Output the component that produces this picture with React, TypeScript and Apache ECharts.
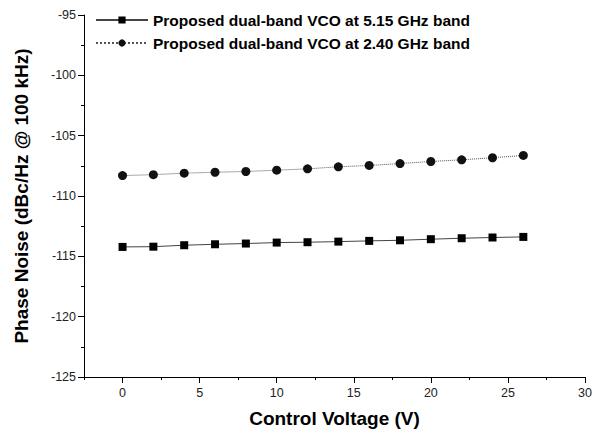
import React, { useEffect, useRef } from "react";
import * as echarts from "echarts";

const voltage = [0, 2, 4, 6, 8, 10, 12, 14, 16, 18, 20, 22, 24, 26];
const noise515 = [-114.22, -114.2, -114.08, -114.0, -113.94, -113.86, -113.83, -113.78, -113.72, -113.67, -113.58, -113.5, -113.44, -113.39];
const noise240 = [-108.31, -108.23, -108.11, -108.03, -107.97, -107.86, -107.75, -107.58, -107.47, -107.31, -107.14, -107.0, -106.83, -106.64];
const xMajorTicks = [0, 5, 10, 15, 20, 25, 30];
const xMinorTicks = [-2.5, 2.5, 7.5, 12.5, 17.5, 22.5, 27.5];
const seriesNames = [
  "Proposed dual-band VCO at 5.15 GHz band",
  "Proposed dual-band VCO at 2.40 GHz band",
];

export default function App() {
  const ref = useRef<HTMLDivElement>(null);
  useEffect(() => {
    if (!ref.current) return;
    const chart = echarts.init(ref.current, null, { renderer: "svg" });
    const font = "'Liberation Sans', Arial, sans-serif";
    const xCommon = {
      type: "value",
      min: -2.5,
      max: 30,
      splitLine: { show: false },
    };
    chart.setOption({
      animation: false,
      backgroundColor: "#fff",
      textStyle: { fontFamily: font },
      grid: { left: 84, right: 24, top: 15, bottom: 60 },
      legend: {
        orient: "vertical",
        left: 90,
        top: 7,
        itemWidth: 52,
        itemHeight: 9,
        itemGap: 7,
        textStyle: { fontSize: 15.5, fontWeight: "bold", color: "#000", fontFamily: font },
        data: seriesNames,
      },
      xAxis: [
        {
          ...xCommon,
          name: "Control Voltage (V)",
          nameLocation: "middle",
          nameGap: 32,
          nameTextStyle: { fontSize: 19, fontWeight: "bold", color: "#000", fontFamily: font },
          axisLine: { show: true, onZero: false, lineStyle: { color: "#000", width: 1 } },
          axisTick: { show: true, length: 6, customValues: xMajorTicks, lineStyle: { color: "#000" } },
          axisLabel: { customValues: xMajorTicks, fontSize: 12.5, color: "#222", margin: 9, fontFamily: font },
        },
        {
          ...xCommon,
          position: "bottom",
          axisLine: { show: false, onZero: false },
          axisTick: { show: true, length: 3, customValues: xMinorTicks, lineStyle: { color: "#000" } },
          axisLabel: { show: false },
        },
      ],
      yAxis: {
        type: "value",
        min: -125,
        max: -95,
        interval: 5,
        name: "Phase Noise (dBc/Hz @ 100 kHz)",
        nameLocation: "middle",
        nameGap: 53,
        nameTextStyle: { fontSize: 19, fontWeight: "bold", color: "#000", fontFamily: font },
        splitLine: { show: false },
        axisLine: { show: true, onZero: false, lineStyle: { color: "#000", width: 1 } },
        axisTick: { show: true, length: 6, lineStyle: { color: "#000" } },
        minorTick: { show: true, splitNumber: 2, length: 3, lineStyle: { color: "#000" } },
        axisLabel: { fontSize: 12.5, color: "#222", margin: 8, fontFamily: font },
      },
      series: [
        {
          name: seriesNames[0],
          type: "line",
          xAxisIndex: 0,
          data: voltage.map((v, i) => [v, noise515[i]]),
          symbol: "rect",
          symbolSize: 8,
          itemStyle: { color: "#000" },
          lineStyle: { color: "#444", width: 1, type: "solid" },
        },
        {
          name: seriesNames[1],
          type: "line",
          xAxisIndex: 0,
          data: voltage.map((v, i) => [v, noise240[i]]),
          symbol: "circle",
          symbolSize: 9,
          itemStyle: { color: "#111" },
          lineStyle: { color: "#555", width: 1, type: "dotted" },
        },
      ],
    });
    return () => chart.dispose();
  }, []);
  return <div ref={ref} style={{ width: 609, height: 437, position: "absolute", left: 0, top: 0 }} />;
}
